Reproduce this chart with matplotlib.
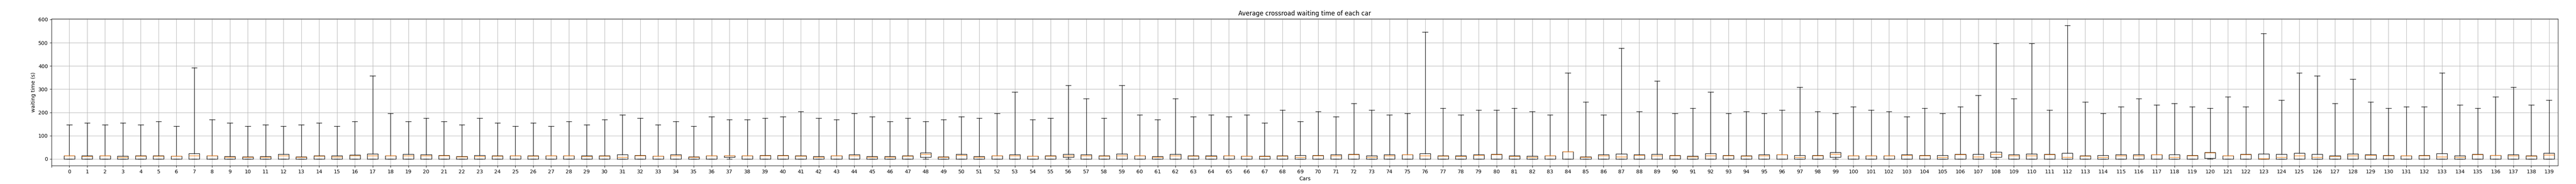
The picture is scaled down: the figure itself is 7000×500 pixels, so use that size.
import matplotlib
matplotlib.use("Agg")
import matplotlib.pyplot as plt
import numpy as np

cars = list(range(140))

# top whisker (max waiting time) of each car
whisker_top = [147, 155, 147, 155, 147, 161, 140.5, 393, 169, 155, 140.5, 147, 140.5, 147, 155, 140.5, 161, 357, 196,
               161, 175, 161, 147, 175, 155, 140.5, 155, 140.5, 161, 147, 169, 189, 175, 147, 161, 140.5, 182, 169,
               169, 175, 182, 204, 175, 169, 196, 182, 161, 175, 161, 169, 182, 175, 196, 288, 169, 175, 316,
               259, 175, 316, 189, 169, 259, 182, 189, 182, 189, 155, 210, 161, 204, 182, 239, 210, 189, 196,
               546, 218, 189, 210, 210, 218, 204, 189, 371, 245, 189, 477, 204, 336, 196, 218, 288, 196, 204,
               196, 210, 308, 204, 196, 225, 210, 204, 182, 218, 196, 225, 273, 497, 259, 497, 210, 575, 245,
               196, 225, 259, 233, 239, 225, 218, 267, 225, 540, 253, 371, 357, 239, 343, 245, 218, 225, 225,
               371, 232, 218, 267, 308, 232, 253]

q3 = [14.7, 14.7, 14.7, 13, 14, 14, 12.6, 23.7, 14.7, 11.6, 10, 11.6, 20.5, 9.5, 14.7, 14.7, 17, 22, 14.7,
      20.5, 18, 16, 11.6, 15.8, 14, 14.7, 14, 14.7, 14.7, 14.7, 14, 18, 16, 13, 18, 10, 14.7, 14.7,
      14.7, 16, 16, 14.7, 11.6, 14.7, 18, 11.6, 11.6, 14.7, 27, 9.5, 20.5, 11.6, 14.7, 19, 13, 14.7, 20.5,
      19.5, 14.7, 22, 14.7, 11.6, 20.5, 14, 14.7, 14.7, 13, 13, 14.7, 16, 16, 18, 20.5, 14.7, 18, 18,
      23.7, 14.7, 14.7, 18, 20.5, 14.7, 13, 14.7, 32, 9.5, 18, 22, 19.5, 20.5, 16, 13, 23.7, 16, 14.7,
      18, 18, 16, 16, 29, 14.7, 14.7, 14.7, 19.5, 16, 16, 20.5, 20.5, 30.5, 18, 22, 20.5, 25, 14.7,
      16, 19.5, 18, 19.5, 19.5, 16, 29, 14.7, 20.5, 22, 20.5, 25, 20.5, 14.7, 22, 18, 16, 14.7, 16,
      23.7, 14, 20.5, 15, 19, 13.6, 25]

medians = [14.7, 11.6, 14.7, 8, 13, 13, 12.6, 14, 14, 8, 8, 8, 14, 8, 13, 9, 14.7, 14, 14,
           14, 14, 14.7, 10, 11, 13, 14, 12.6, 14, 14.7, 11, 12.6, 8, 14.7, 12.6, 14.7, 8, 14, 14,
           14, 14.7, 14.7, 12.6, 8, 14, 14.7, 8, 8, 13, 21, 8, 16, 8, 14.7, 14, 12.6, 13, 14,
           14, 13, 14, 14.7, 8, 14, 13, 11, 14, 12.6, 11.6, 13, 8, 14.7, 14.7, 19.5, 8, 14.7, 18,
           14, 13, 11.6, 16, 18, 11.6, 8, 14, 32, 8, 14.7, 9.5, 16, 14, 14.7, 10, 14, 14.7, 13,
           14.7, 18, 8, 14.7, 20.5, 14, 14, 14, 16, 14.7, 8, 19.5, 9.5, 20.5, 14.7, 14, 18, 8, 13,
           8, 14, 14.7, 18, 8, 14.7, 27, 14, 18, 1.5, 8, 14, 8, 11, 14, 16, 14.7, 14, 14.7,
           10, 8, 19.5, 15, 14.6, 13, 17]

# lower quartile is 0 for nearly every car
q1_nonzero = {37: 8, 48: 8, 56: 8, 99: 8, 108: 8, 120: 3}
q1 = [q1_nonzero.get(c, 0) for c in cars]
whisker_low = [0] * len(cars)

stats = []
for i in range(len(cars)):
    stats.append({"whislo": whisker_low[i], "q1": q1[i], "med": medians[i],
                  "q3": q3[i], "whishi": whisker_top[i], "fliers": []})

fig, ax = plt.subplots(figsize=(70, 5), dpi=100)
fig.subplots_adjust(left=0.02, right=0.993, top=0.899, bottom=0.1)
ax.bxp(stats, positions=cars, widths=0.6)
ax.set_xticks(np.arange(-1, len(cars)))
ax.set_xticklabels([""] + [str(c) for c in cars])
ax.set_xlim(-1, len(cars) - 0.5)
ax.set_title("Average crossroad waiting time of each car")
ax.set_xlabel("Cars")
ax.set_ylabel("waiting time (s)")
ax.grid()
fig.savefig("out.png")
